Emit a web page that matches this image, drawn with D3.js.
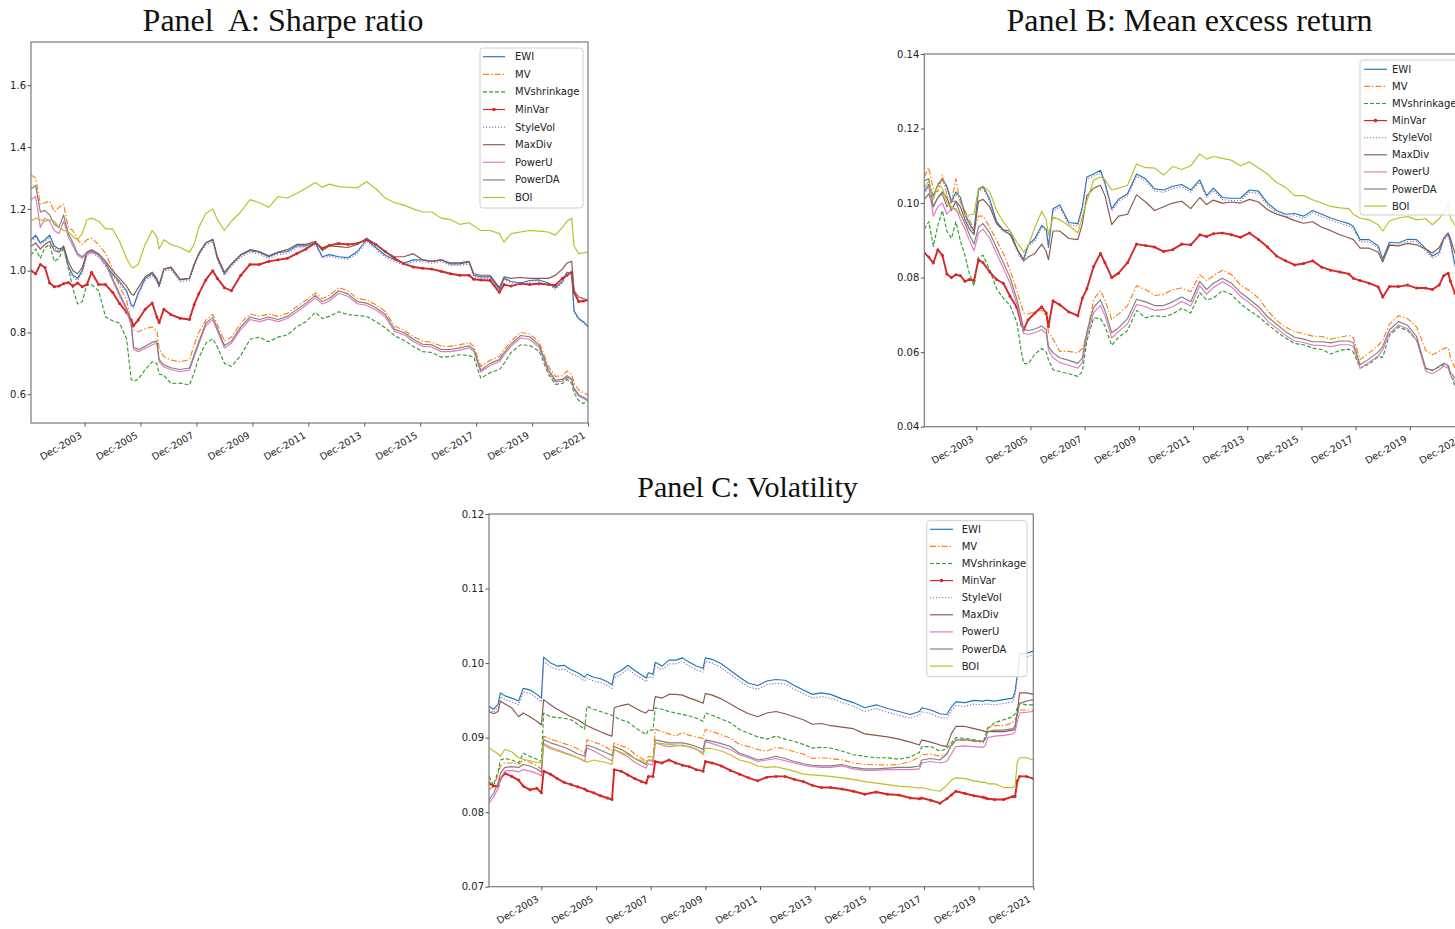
<!DOCTYPE html>
<html><head><meta charset="utf-8">
<script src="https://cdn.jsdelivr.net/npm/d3@7"></script>
<style>body{margin:0;background:#fff;overflow:hidden} svg{display:block}</style>
</head><body>
<svg id="chart" width="1455" height="929"></svg>
<script>
// ---------------- DATA ----------------
const seriesNames = ["EWI","MV","MVshrinkage","MinVar","StyleVol","MaxDiv","PowerU","PowerDA","BOI"];
// month index: 0 = Jan-2002 ... 239 = Dec-2021
const monthsAB = [0,2,4,6,8,10,12,14,16,18,20,22,24,26,29,32,35,38,41,43,44,46,49,52,54,55,57,60,64,68,70,72,75,78,80,83,86,90,94,98,102,106,110,114,118,122,125,128,132,136,140,144,148,152,156,160,164,168,172,176,180,184,188,190,193,197,201,203,206,210,214,218,222,225,228,230,232,233,235,237,239];
const monthsC = [0,2,4,5,7,10,13,15,18,21,23,24,27,30,33,36,39,42,43,46,49,52,54,55,58,61,64,67,69,70,72,73,76,79,82,85,88,91,94,95,98,102,106,110,114,118,122,126,130,134,138,142,146,150,155,160,165,170,175,180,185,189,190,194,198,201,203,205,209,213,217,218,219,222,226,230,231,232,233,236,239];
const tickMonths = [23,47,71,95,119,143,167,191,215,239];
const tickLabels = ["Dec-2003","Dec-2005","Dec-2007","Dec-2009","Dec-2011","Dec-2013","Dec-2015","Dec-2017","Dec-2019","Dec-2021"];
const sharpeTicks = [0.6,0.8,1.0,1.2,1.4,1.6];
const returnTicks = [0.04,0.06,0.08,0.10,0.12,0.14];
const volTicks = [0.07,0.08,0.09,0.10,0.11,0.12];

// Panel A: Sharpe ratio
const sharpeEWI = [1.100,1.115,1.090,1.100,1.115,1.080,1.070,1.075,1.015,0.985,0.975,1.000,1.055,1.065,1.050,1.020,0.990,0.965,0.935,0.890,0.885,0.927,0.975,0.990,0.970,0.950,1.005,1.010,0.970,0.975,1.020,1.055,1.090,1.100,1.040,0.990,1.020,1.050,1.065,1.060,1.045,1.058,1.062,1.080,1.080,1.090,1.045,1.052,1.045,1.042,1.062,1.100,1.075,1.050,1.035,1.025,1.035,1.035,1.030,1.035,1.022,1.022,1.028,0.985,0.980,0.980,0.940,0.975,0.965,0.960,0.968,0.970,0.960,0.945,0.965,0.995,0.990,0.870,0.845,0.835,0.820];
const sharpeMV = [1.310,1.300,1.215,1.220,1.225,1.190,1.205,1.215,1.140,1.130,1.100,1.085,1.100,1.105,1.085,1.056,1.005,0.950,0.905,0.830,0.808,0.802,0.812,0.818,0.805,0.745,0.722,0.711,0.705,0.712,0.760,0.800,0.840,0.858,0.825,0.772,0.785,0.830,0.860,0.852,0.860,0.852,0.862,0.883,0.905,0.928,0.910,0.920,0.945,0.935,0.910,0.905,0.890,0.868,0.820,0.808,0.786,0.772,0.768,0.756,0.755,0.760,0.768,0.755,0.690,0.710,0.722,0.745,0.772,0.800,0.795,0.770,0.690,0.658,0.660,0.675,0.665,0.635,0.614,0.605,0.598];
const sharpeMVshrinkage = [1.050,1.070,1.040,1.075,1.085,1.030,1.040,1.075,1.010,0.940,0.892,0.900,0.955,0.955,0.935,0.850,0.838,0.830,0.780,0.648,0.642,0.648,0.680,0.705,0.700,0.665,0.662,0.635,0.636,0.630,0.670,0.718,0.765,0.780,0.752,0.700,0.690,0.725,0.778,0.785,0.770,0.785,0.792,0.818,0.835,0.865,0.845,0.852,0.867,0.858,0.855,0.852,0.835,0.815,0.790,0.775,0.755,0.738,0.735,0.720,0.722,0.728,0.725,0.720,0.652,0.670,0.680,0.700,0.735,0.760,0.758,0.740,0.665,0.632,0.635,0.648,0.635,0.605,0.580,0.570,0.580];
const sharpeMinVar = [1.000,0.990,1.020,1.010,0.960,0.948,0.950,0.958,0.962,0.950,0.960,0.948,0.955,0.995,0.955,0.955,0.930,0.894,0.865,0.840,0.822,0.840,0.875,0.895,0.850,0.832,0.875,0.858,0.846,0.842,0.890,0.925,0.970,1.000,0.975,0.945,0.935,0.985,1.020,1.020,1.030,1.035,1.040,1.055,1.070,1.090,1.072,1.082,1.088,1.085,1.088,1.100,1.085,1.062,1.040,1.022,1.012,1.008,1.005,0.998,0.990,0.985,0.985,0.972,0.970,0.968,0.930,0.955,0.950,0.958,0.955,0.958,0.955,0.953,0.975,0.985,0.995,0.930,0.900,0.902,0.905];
const sharpeStyleVol = [1.094,1.108,1.085,1.094,1.108,1.074,1.064,1.069,1.010,0.980,0.969,0.994,1.049,1.059,1.044,1.014,0.984,0.959,0.929,0.885,0.880,0.921,0.969,0.984,0.964,0.945,0.999,1.004,0.964,0.969,1.014,1.049,1.084,1.094,1.034,0.985,1.014,1.044,1.059,1.054,1.039,1.052,1.056,1.074,1.074,1.084,1.040,1.046,1.040,1.037,1.056,1.094,1.069,1.044,1.029,1.019,1.029,1.029,1.024,1.029,1.017,1.017,1.022,0.980,0.975,0.975,0.935,0.970,0.960,0.955,0.962,0.964,0.955,0.940,0.960,0.989,0.984,0.866,0.841,0.831,0.816];
const sharpeMaxDiv = [1.078,1.090,1.070,1.085,1.095,1.065,1.060,1.080,1.030,1.000,0.990,1.010,1.060,1.068,1.055,1.030,1.000,0.975,0.950,0.925,0.920,0.945,0.980,0.995,0.975,0.955,1.005,1.012,0.972,0.975,1.020,1.055,1.090,1.102,1.045,0.995,1.022,1.052,1.068,1.062,1.048,1.060,1.068,1.085,1.085,1.095,1.065,1.080,1.078,1.075,1.085,1.105,1.085,1.060,1.045,1.045,1.055,1.035,1.030,1.035,1.025,1.025,1.030,0.990,0.985,0.985,0.945,0.980,0.975,0.978,0.975,0.975,0.975,0.985,1.005,1.025,1.030,0.935,0.915,0.910,0.905];
const sharpePowerU = [1.229,1.240,1.140,1.170,1.160,1.130,1.120,1.160,1.110,1.080,1.050,1.040,1.055,1.060,1.050,1.022,0.968,0.918,0.872,0.822,0.745,0.738,0.748,0.760,0.765,0.705,0.688,0.680,0.673,0.678,0.720,0.762,0.822,0.840,0.805,0.750,0.765,0.810,0.842,0.835,0.843,0.835,0.845,0.866,0.888,0.912,0.892,0.902,0.927,0.917,0.893,0.888,0.873,0.850,0.803,0.793,0.771,0.755,0.753,0.738,0.738,0.743,0.750,0.738,0.672,0.693,0.705,0.728,0.755,0.782,0.778,0.752,0.673,0.640,0.642,0.655,0.645,0.615,0.594,0.586,0.578];
const sharpePowerDA = [1.265,1.275,1.190,1.195,1.180,1.150,1.140,1.180,1.120,1.090,1.055,1.045,1.060,1.065,1.055,1.030,0.975,0.925,0.880,0.830,0.752,0.745,0.755,0.768,0.772,0.712,0.695,0.686,0.680,0.685,0.728,0.770,0.830,0.848,0.812,0.758,0.772,0.818,0.850,0.842,0.850,0.842,0.852,0.874,0.895,0.920,0.900,0.910,0.935,0.925,0.900,0.895,0.880,0.858,0.810,0.800,0.778,0.762,0.760,0.745,0.745,0.750,0.757,0.745,0.678,0.700,0.712,0.735,0.762,0.790,0.786,0.760,0.680,0.645,0.648,0.660,0.650,0.620,0.598,0.590,0.582];
const sharpeBOI = [1.160,1.170,1.165,1.160,1.165,1.160,1.140,1.130,1.125,1.110,1.100,1.120,1.165,1.170,1.160,1.135,1.135,1.095,1.040,1.012,1.010,1.020,1.085,1.130,1.110,1.070,1.100,1.085,1.075,1.060,1.085,1.140,1.185,1.200,1.165,1.130,1.160,1.190,1.230,1.220,1.205,1.240,1.235,1.250,1.267,1.285,1.270,1.280,1.272,1.270,1.268,1.288,1.265,1.235,1.220,1.212,1.200,1.190,1.190,1.170,1.165,1.150,1.155,1.145,1.130,1.130,1.120,1.092,1.120,1.125,1.130,1.128,1.125,1.115,1.140,1.160,1.170,1.080,1.055,1.058,1.060];

// Panel B: Mean excess return
const retEWI = [0.103,0.105,0.102,0.105,0.1065,0.1045,0.1005,0.103,0.1015,0.097,0.0945,0.0925,0.1035,0.1045,0.101,0.095,0.0928,0.0925,0.0878,0.0855,0.085,0.0888,0.0905,0.094,0.093,0.0884,0.0985,0.0995,0.0948,0.0945,0.099,0.107,0.1078,0.1088,0.1055,0.0985,0.101,0.1025,0.1078,0.1065,0.1038,0.1035,0.1045,0.105,0.1035,0.1062,0.102,0.104,0.1015,0.1013,0.1013,0.1035,0.1032,0.1,0.098,0.097,0.0972,0.0965,0.098,0.097,0.096,0.0952,0.0945,0.0937,0.0902,0.0902,0.0885,0.085,0.0895,0.0893,0.0903,0.0902,0.0878,0.0858,0.0868,0.0905,0.092,0.0895,0.0835,0.083,0.0825];
const retMV = [0.107,0.1095,0.1036,0.103,0.1075,0.102,0.1005,0.1065,0.1,0.098,0.0955,0.093,0.0965,0.0965,0.0935,0.09,0.0865,0.082,0.0765,0.0725,0.0705,0.0703,0.0708,0.0713,0.0698,0.0652,0.0635,0.0602,0.0602,0.0598,0.061,0.0648,0.0742,0.0765,0.074,0.0688,0.0702,0.0725,0.0778,0.0768,0.0752,0.0755,0.0768,0.0772,0.0762,0.0808,0.0792,0.0805,0.082,0.0808,0.078,0.0765,0.0745,0.0712,0.0685,0.0667,0.0655,0.065,0.0643,0.0642,0.0635,0.064,0.0645,0.0638,0.058,0.0598,0.0618,0.0632,0.0675,0.0698,0.069,0.0668,0.0605,0.0593,0.0602,0.061,0.0612,0.0585,0.0558,0.0552,0.055];
const retMVshrinkage = [0.093,0.095,0.0884,0.094,0.098,0.0925,0.0905,0.095,0.0898,0.086,0.081,0.0778,0.0855,0.086,0.082,0.077,0.0745,0.0725,0.068,0.06,0.057,0.0568,0.0595,0.061,0.06,0.0579,0.0553,0.0548,0.0542,0.0535,0.0548,0.063,0.0692,0.069,0.067,0.0618,0.064,0.0658,0.0712,0.0692,0.0698,0.0695,0.0702,0.0718,0.0705,0.076,0.074,0.0745,0.0765,0.0755,0.073,0.0712,0.0695,0.0675,0.0655,0.0638,0.0623,0.062,0.0611,0.0607,0.0595,0.0605,0.0608,0.06,0.0557,0.0568,0.0588,0.0586,0.0645,0.0668,0.0658,0.0632,0.0555,0.0552,0.056,0.0566,0.0562,0.054,0.051,0.0505,0.05];
const retMinVar = [0.0866,0.0855,0.0839,0.0875,0.086,0.081,0.08,0.0808,0.0805,0.079,0.0795,0.0792,0.0848,0.084,0.0815,0.0795,0.0785,0.075,0.072,0.0675,0.066,0.0687,0.0705,0.0722,0.0705,0.0669,0.0738,0.0727,0.0708,0.0698,0.0745,0.077,0.083,0.0865,0.084,0.08,0.0812,0.084,0.089,0.0886,0.0882,0.087,0.0875,0.089,0.0888,0.0915,0.091,0.0918,0.092,0.0915,0.0908,0.092,0.0902,0.0882,0.0858,0.0845,0.0834,0.0838,0.0845,0.0828,0.082,0.0815,0.081,0.0798,0.0792,0.0785,0.0775,0.0748,0.0776,0.0776,0.078,0.0772,0.0772,0.0768,0.078,0.0805,0.0812,0.079,0.0758,0.0755,0.0752];
const retStyleVol = [0.1024,0.1044,0.1014,0.1044,0.1059,0.1039,0.0999,0.1024,0.1009,0.0964,0.0939,0.0919,0.1029,0.1039,0.1004,0.0944,0.0922,0.0919,0.0872,0.0849,0.0844,0.0882,0.0899,0.0934,0.0924,0.0878,0.0979,0.0989,0.0942,0.0939,0.0984,0.1064,0.1072,0.1082,0.1049,0.0979,0.1004,0.1019,0.1072,0.1059,0.1032,0.1029,0.1039,0.1044,0.1029,0.1056,0.1014,0.1034,0.1009,0.1007,0.1007,0.1029,0.1026,0.0994,0.0974,0.0964,0.0966,0.0959,0.0974,0.0964,0.0954,0.0946,0.0939,0.0931,0.0896,0.0896,0.0879,0.0844,0.0889,0.0887,0.0897,0.0896,0.0872,0.0852,0.0862,0.0899,0.0914,0.0889,0.0829,0.0824,0.0819];
const retMaxDiv = [0.101,0.1025,0.099,0.1015,0.103,0.1015,0.098,0.1005,0.099,0.0955,0.093,0.0915,0.1005,0.101,0.099,0.0945,0.0928,0.0915,0.0878,0.0858,0.0845,0.0855,0.0865,0.089,0.087,0.0848,0.0925,0.0925,0.0905,0.0902,0.0945,0.102,0.104,0.1048,0.102,0.0942,0.0965,0.097,0.1022,0.1003,0.098,0.099,0.1,0.1005,0.0985,0.1015,0.0996,0.1008,0.1,0.1003,0.1,0.101,0.1003,0.0982,0.097,0.0963,0.0953,0.0946,0.095,0.0935,0.0926,0.0915,0.0907,0.0902,0.0879,0.0879,0.0868,0.0842,0.0887,0.0885,0.0892,0.0888,0.0877,0.0866,0.088,0.0905,0.0918,0.0905,0.0865,0.086,0.0855];
const retPowerU = [0.1035,0.1045,0.0965,0.099,0.1,0.097,0.0985,0.0985,0.0955,0.093,0.09,0.0872,0.092,0.093,0.0905,0.0865,0.0825,0.0785,0.0728,0.0678,0.065,0.0648,0.0652,0.066,0.065,0.0605,0.0585,0.0572,0.0565,0.0557,0.0572,0.0642,0.0706,0.0725,0.0698,0.0638,0.0655,0.0676,0.0728,0.0722,0.0712,0.0714,0.0722,0.0736,0.0724,0.0778,0.0756,0.0773,0.0789,0.0775,0.075,0.0732,0.0712,0.0684,0.0664,0.0645,0.063,0.0626,0.0619,0.0618,0.0615,0.062,0.062,0.0615,0.0557,0.0573,0.059,0.0606,0.065,0.0673,0.0663,0.0633,0.0549,0.0542,0.0553,0.0562,0.0557,0.0537,0.0522,0.0517,0.0512];
const retPowerDA = [0.106,0.1065,0.099,0.1015,0.1025,0.099,0.1005,0.1005,0.097,0.0945,0.0915,0.089,0.0935,0.0945,0.092,0.088,0.084,0.08,0.0742,0.069,0.0662,0.0658,0.0662,0.067,0.066,0.0615,0.0598,0.0585,0.0578,0.057,0.0585,0.0655,0.072,0.074,0.0712,0.0652,0.0665,0.069,0.0742,0.0735,0.0725,0.0725,0.0735,0.0748,0.0735,0.079,0.0768,0.0785,0.0798,0.0785,0.076,0.0742,0.0722,0.0695,0.0675,0.0655,0.064,0.0635,0.0628,0.0628,0.0625,0.063,0.063,0.0625,0.0566,0.0582,0.06,0.0615,0.066,0.0682,0.0672,0.0642,0.0558,0.055,0.0562,0.057,0.0565,0.0545,0.053,0.0525,0.052];
const retBOI = [0.104,0.106,0.101,0.105,0.104,0.100,0.099,0.098,0.097,0.0968,0.0968,0.097,0.104,0.1045,0.103,0.098,0.095,0.0925,0.0895,0.0878,0.0868,0.0885,0.0935,0.0978,0.0955,0.0915,0.0962,0.0955,0.094,0.092,0.0965,0.1005,0.1062,0.107,0.1063,0.1035,0.104,0.1048,0.1105,0.1095,0.1094,0.1075,0.1098,0.109,0.110,0.1132,0.1118,0.1125,0.112,0.1115,0.110,0.111,0.1094,0.1078,0.1055,0.1042,0.102,0.102,0.1009,0.1,0.0991,0.0987,0.0985,0.097,0.096,0.0955,0.0942,0.0925,0.0952,0.096,0.0964,0.0955,0.0958,0.0942,0.0958,0.0975,0.0995,0.096,0.094,0.0955,0.0955];

// Panel C: Volatility
const volEWI = [0.0942,0.0938,0.0945,0.0960,0.0956,0.0953,0.0949,0.0966,0.0964,0.0958,0.0953,0.1008,0.1000,0.0996,0.0997,0.0991,0.0987,0.0981,0.0985,0.0981,0.0979,0.0975,0.0971,0.0985,0.0990,0.0997,0.0990,0.0984,0.0980,0.0987,0.0985,0.1001,0.0996,0.1004,0.1004,0.1007,0.1001,0.0996,0.0993,0.1007,0.1005,0.0999,0.0990,0.0981,0.0973,0.0970,0.0976,0.0978,0.0977,0.0970,0.0964,0.0958,0.0960,0.0958,0.0952,0.0947,0.0940,0.0944,0.0939,0.0935,0.0931,0.0935,0.0940,0.0937,0.0932,0.0931,0.0941,0.0948,0.0947,0.0950,0.0949,0.0950,0.0950,0.0949,0.0951,0.0953,0.0962,0.0985,0.1012,0.1013,0.1016];
const volMV = [0.0830,0.0835,0.0850,0.0862,0.0866,0.0866,0.0864,0.0870,0.0867,0.0862,0.0858,0.0902,0.0898,0.0895,0.0892,0.0889,0.0885,0.0879,0.0897,0.0894,0.0891,0.0886,0.0882,0.0893,0.0889,0.0886,0.0878,0.0872,0.0868,0.0875,0.0873,0.0911,0.0908,0.0905,0.0902,0.0907,0.0903,0.0901,0.0899,0.0911,0.0908,0.0904,0.0899,0.0891,0.0888,0.0884,0.0882,0.0887,0.0885,0.0881,0.0878,0.0872,0.0873,0.0872,0.0870,0.0866,0.0864,0.0864,0.0863,0.0864,0.0868,0.0874,0.0877,0.0878,0.0875,0.0878,0.0888,0.0897,0.0897,0.0895,0.0893,0.0900,0.0914,0.0916,0.0916,0.0920,0.0924,0.0932,0.0937,0.0937,0.0937];
const volMVshrinkage = [0.0848,0.0836,0.0855,0.0870,0.0872,0.0870,0.0866,0.0879,0.0875,0.0871,0.0868,0.0933,0.0928,0.0927,0.0926,0.0924,0.0918,0.0911,0.0942,0.0938,0.0935,0.0932,0.0930,0.0928,0.0924,0.0921,0.0914,0.0908,0.0904,0.0910,0.0910,0.0940,0.0938,0.0935,0.0933,0.0931,0.0929,0.0926,0.0922,0.0933,0.0930,0.0925,0.0920,0.0911,0.0906,0.0901,0.0898,0.0902,0.0898,0.0895,0.0891,0.0886,0.0887,0.0886,0.0882,0.0877,0.0875,0.0873,0.0873,0.0871,0.0874,0.0880,0.0888,0.0888,0.0882,0.0885,0.0893,0.0900,0.0899,0.0897,0.0895,0.0902,0.0912,0.0920,0.0924,0.0928,0.0932,0.0940,0.0946,0.0944,0.0944];
const volMinVar = [0.0839,0.0835,0.0835,0.0845,0.0852,0.0848,0.0843,0.0835,0.0830,0.0832,0.0826,0.0855,0.0851,0.0845,0.0840,0.0837,0.0834,0.0831,0.0829,0.0826,0.0822,0.0819,0.0817,0.0857,0.0855,0.0850,0.0845,0.0841,0.0839,0.0848,0.0848,0.0868,0.0866,0.0870,0.0866,0.0863,0.0861,0.0857,0.0855,0.0868,0.0866,0.0862,0.0856,0.0851,0.0846,0.0842,0.0847,0.0848,0.0848,0.0844,0.0841,0.0836,0.0833,0.0833,0.0831,0.0828,0.0824,0.0827,0.0824,0.0823,0.0819,0.0818,0.0819,0.0816,0.0812,0.0818,0.0823,0.0828,0.0825,0.0822,0.0820,0.0819,0.0818,0.0817,0.0817,0.0821,0.0821,0.0842,0.0848,0.0848,0.0845];
const volStyleVol = [0.0938,0.0934,0.0941,0.0955,0.0951,0.0948,0.0944,0.0961,0.0959,0.0953,0.0948,0.1002,0.0995,0.0991,0.0992,0.0986,0.0982,0.0976,0.0980,0.0976,0.0974,0.0970,0.0966,0.0980,0.0985,0.0992,0.0985,0.0979,0.0975,0.0982,0.0980,0.0996,0.0991,0.0999,0.0999,0.1002,0.0996,0.0991,0.0988,0.1002,0.1000,0.0994,0.0985,0.0976,0.0968,0.0965,0.0971,0.0973,0.0972,0.0965,0.0959,0.0953,0.0955,0.0953,0.0947,0.0942,0.0935,0.0939,0.0934,0.0930,0.0926,0.0930,0.0935,0.0932,0.0927,0.0926,0.0936,0.0943,0.0942,0.0945,0.0944,0.0945,0.0945,0.0944,0.0946,0.0948,0.0957,0.0980,0.1007,0.1008,0.1011];
const volMaxDiv = [0.0935,0.0932,0.0935,0.0949,0.0945,0.0940,0.0928,0.0933,0.0928,0.0922,0.0917,0.0951,0.0944,0.0938,0.0933,0.0928,0.0924,0.0918,0.0916,0.0912,0.0908,0.0904,0.0902,0.0940,0.0943,0.0945,0.0940,0.0935,0.0933,0.0937,0.0936,0.0955,0.0953,0.0958,0.0958,0.0957,0.0953,0.0950,0.0946,0.0959,0.0957,0.0952,0.0945,0.0938,0.0932,0.0928,0.0933,0.0935,0.0932,0.0928,0.0924,0.0918,0.0919,0.0916,0.0914,0.0912,0.0905,0.0903,0.0901,0.0898,0.0894,0.0890,0.0897,0.0894,0.0890,0.0888,0.0905,0.0915,0.0915,0.0912,0.0909,0.0908,0.0908,0.0908,0.0908,0.0910,0.0912,0.0935,0.0960,0.0960,0.0958];
const volPowerU = [0.0812,0.0820,0.0832,0.0845,0.0855,0.0856,0.0854,0.0857,0.0855,0.0852,0.0849,0.0892,0.0887,0.0884,0.0880,0.0877,0.0873,0.0868,0.0886,0.0882,0.0877,0.0872,0.0869,0.0884,0.0879,0.0874,0.0867,0.0862,0.0859,0.0865,0.0863,0.0893,0.0890,0.0888,0.0889,0.0890,0.0887,0.0884,0.0880,0.0895,0.0892,0.0888,0.0884,0.0877,0.0873,0.0868,0.0870,0.0872,0.0869,0.0866,0.0863,0.0861,0.0860,0.0860,0.0862,0.0858,0.0856,0.0856,0.0857,0.0857,0.0857,0.0858,0.0866,0.0868,0.0866,0.0868,0.0878,0.0888,0.0889,0.0888,0.0887,0.0890,0.0900,0.0902,0.0903,0.0905,0.0908,0.0922,0.0933,0.0934,0.0935];
const volPowerDA = [0.0817,0.0825,0.0839,0.0852,0.0860,0.0861,0.0860,0.0864,0.0862,0.0858,0.0854,0.0897,0.0893,0.0890,0.0887,0.0883,0.0878,0.0875,0.0890,0.0887,0.0883,0.0879,0.0876,0.0888,0.0884,0.0879,0.0872,0.0867,0.0864,0.0870,0.0868,0.0897,0.0895,0.0893,0.0893,0.0893,0.0891,0.0888,0.0884,0.0897,0.0895,0.0892,0.0888,0.0879,0.0875,0.0870,0.0872,0.0875,0.0872,0.0868,0.0865,0.0863,0.0862,0.0862,0.0864,0.0860,0.0858,0.0858,0.0859,0.0860,0.0860,0.0862,0.0870,0.0872,0.0870,0.0878,0.0890,0.0897,0.0897,0.0896,0.0895,0.0898,0.0908,0.0910,0.0910,0.0912,0.0916,0.0932,0.0946,0.0949,0.0951];
const volBOI = [0.0886,0.0882,0.0878,0.0875,0.0884,0.0881,0.0873,0.0871,0.0869,0.0867,0.0866,0.0890,0.0885,0.0882,0.0879,0.0876,0.0873,0.0869,0.0867,0.0870,0.0868,0.0866,0.0864,0.0884,0.0880,0.0877,0.0872,0.0869,0.0866,0.0870,0.0870,0.0893,0.0892,0.0891,0.0890,0.0889,0.0888,0.0885,0.0877,0.0886,0.0885,0.0882,0.0877,0.0870,0.0867,0.0862,0.0860,0.0861,0.0858,0.0855,0.0851,0.0850,0.0849,0.0848,0.0846,0.0844,0.0841,0.0839,0.0837,0.0835,0.0834,0.0832,0.0833,0.0830,0.0828,0.0836,0.0843,0.0846,0.0845,0.0842,0.0840,0.0840,0.0838,0.0838,0.0833,0.0833,0.0835,0.0868,0.0873,0.0873,0.0870];

// ---------------- STYLE ----------------
const styles = {
  EWI:        {color:"#1f77b4", dash:null},
  MV:         {color:"#ff7f0e", dash:"6,2,1.5,2"},
  MVshrinkage:{color:"#2ca02c", dash:"4,2"},
  MinVar:     {color:"#d62728", dash:null, marker:true},
  StyleVol:   {color:"#9467bd", dash:"1.2,1.8"},
  MaxDiv:     {color:"#8c564b", dash:null},
  PowerU:     {color:"#e377c2", dash:null},
  PowerDA:    {color:"#7f7f7f", dash:null},
  BOI:        {color:"#bcbd22", dash:null}
};

const svg = d3.select("#chart");
const FONT = "'DejaVu Sans', Verdana, sans-serif";

function drawPanel(o) {
  const x = d3.scaleLinear().domain([0, 239]).range([o.left, o.right]);
  const y = d3.scaleLinear().domain(o.domain).range([o.bottom, o.top]);
  const clipId = "clip-" + o.id;
  svg.append("clipPath").attr("id", clipId).append("rect")
    .attr("x", o.left).attr("y", o.top).attr("width", o.right - o.left).attr("height", o.bottom - o.top);

  const gl = svg.append("g").attr("clip-path", `url(#${clipId})`);
  const line = d3.line().x(d => x(d[0])).y(d => y(d[1]));
  seriesNames.forEach(name => {
    const vals = o.data[name];
    const n = Math.min(vals.length, o.months.length);
    const pts = [];
    for (let i = 0; i < n; i++) pts.push([o.months[i], vals[i]]);
    const st = styles[name];
    gl.append("path").attr("d", line(pts)).attr("fill", "none")
      .attr("stroke", st.color).attr("stroke-width", st.marker ? 1.9 : 1.15)
      .attr("stroke-linejoin", "round")
      .attr("stroke-dasharray", st.dash);
    if (st.marker) {
      gl.append("g").selectAll("circle").data(pts).join("circle")
        .attr("cx", d => x(d[0])).attr("cy", d => y(d[1])).attr("r", 1.5)
        .attr("fill", st.color);
    }
  });

  // frame
  svg.append("rect").attr("x", o.left).attr("y", o.top)
    .attr("width", o.right - o.left).attr("height", o.bottom - o.top)
    .attr("fill", "none").attr("stroke", "#7a7a7a").attr("stroke-width", 1.2);

  // x axis
  const xa = svg.append("g").attr("transform", `translate(0,${o.bottom})`)
    .call(d3.axisBottom(x).tickValues(tickMonths).tickFormat((d, i) => tickLabels[i]).tickSize(3.5).tickSizeOuter(0));
  xa.select(".domain").remove();
  xa.selectAll(".tick line").attr("stroke", "#555");
  xa.selectAll(".tick text").attr("font-family", FONT).attr("font-size", 9.6).attr("fill", "#222")
    .attr("text-anchor", "end").attr("dy", null).attr("y", null)
    .attr("transform", "translate(-6,8) rotate(-30)").attr("dominant-baseline", "hanging");

  // y axis
  const ya = svg.append("g").attr("transform", `translate(${o.left},0)`)
    .call(d3.axisLeft(y).tickValues(o.ticks).tickFormat(d3.format(o.fmt)).tickSize(3.5).tickSizeOuter(0));
  ya.select(".domain").remove();
  ya.selectAll(".tick line").attr("stroke", "#555");
  ya.selectAll(".tick text").attr("font-family", FONT).attr("font-size", 10).attr("fill", "#222").attr("x", -5);

  // title
  svg.append("text").attr("x", o.titleX).attr("y", o.titleY).attr("text-anchor", "middle")
    .attr("font-family", "'Liberation Serif', 'Times New Roman', serif").attr("font-size", o.titleSize)
    .attr("fill", "#111").style("white-space", "pre").text(o.title);

  // legend
  const L = o.legend;
  svg.append("rect").attr("x", L.x).attr("y", L.y).attr("width", L.w).attr("height", L.h)
    .attr("rx", 3).attr("fill", "#fff").attr("fill-opacity", 0.85).attr("stroke", "#d0d0d0");
  seriesNames.forEach((name, i) => {
    const st = styles[name];
    const yy = L.y0 + i * L.dy;
    svg.append("line").attr("x1", L.sx1).attr("x2", L.sx2).attr("y1", yy).attr("y2", yy)
      .attr("stroke", st.color).attr("stroke-width", 1.15).attr("stroke-dasharray", st.dash);
    if (st.marker) svg.append("circle").attr("cx", (L.sx1 + L.sx2) / 2).attr("cy", yy).attr("r", 1.8).attr("fill", st.color);
    svg.append("text").attr("x", L.tx).attr("y", yy).attr("dominant-baseline", "central")
      .attr("font-family", FONT).attr("font-size", 10).attr("fill", "#222").text(name);
  });
}

function pack(arrays) {
  const o = {};
  seriesNames.forEach((n, i) => o[n] = arrays[i]);
  return o;
}

drawPanel({
  id: "A", left: 31, right: 588, top: 42, bottom: 423, domain: [0.507, 1.740],
  ticks: sharpeTicks, fmt: ".1f", months: monthsAB,
  data: pack([sharpeEWI, sharpeMV, sharpeMVshrinkage, sharpeMinVar, sharpeStyleVol, sharpeMaxDiv, sharpePowerU, sharpePowerDA, sharpeBOI]),
  title: "Panel  A: Sharpe ratio", titleX: 283, titleY: 30.5, titleSize: 32,
  legend: {x: 480, y: 48, w: 103, h: 160, y0: 56.7, dy: 17.6, sx1: 483, sx2: 505, tx: 515}
});
drawPanel({
  id: "B", left: 924.3, right: 1464, top: 54, bottom: 426.7, domain: [0.04, 0.14],
  ticks: returnTicks, fmt: ".2f", months: monthsAB,
  data: pack([retEWI, retMV, retMVshrinkage, retMinVar, retStyleVol, retMaxDiv, retPowerU, retPowerDA, retBOI]),
  title: "Panel B: Mean excess return", titleX: 1189.5, titleY: 30.5, titleSize: 32,
  legend: {x: 1360, y: 60, w: 110, h: 155, y0: 69.3, dy: 17.1, sx1: 1364, sx2: 1387, tx: 1392}
});
drawPanel({
  id: "C", left: 489, right: 1033.3, top: 514, bottom: 886.7, domain: [0.07, 0.12],
  ticks: volTicks, fmt: ".2f", months: monthsC,
  data: pack([volEWI, volMV, volMVshrinkage, volMinVar, volStyleVol, volMaxDiv, volPowerU, volPowerDA, volBOI]),
  title: "Panel C: Volatility", titleX: 747.5, titleY: 496.7, titleSize: 30,
  legend: {x: 926.7, y: 520.7, w: 100.3, h: 156, y0: 529.3, dy: 17.1, sx1: 930, sx2: 953, tx: 961.7}
});
</script>
</body></html>
